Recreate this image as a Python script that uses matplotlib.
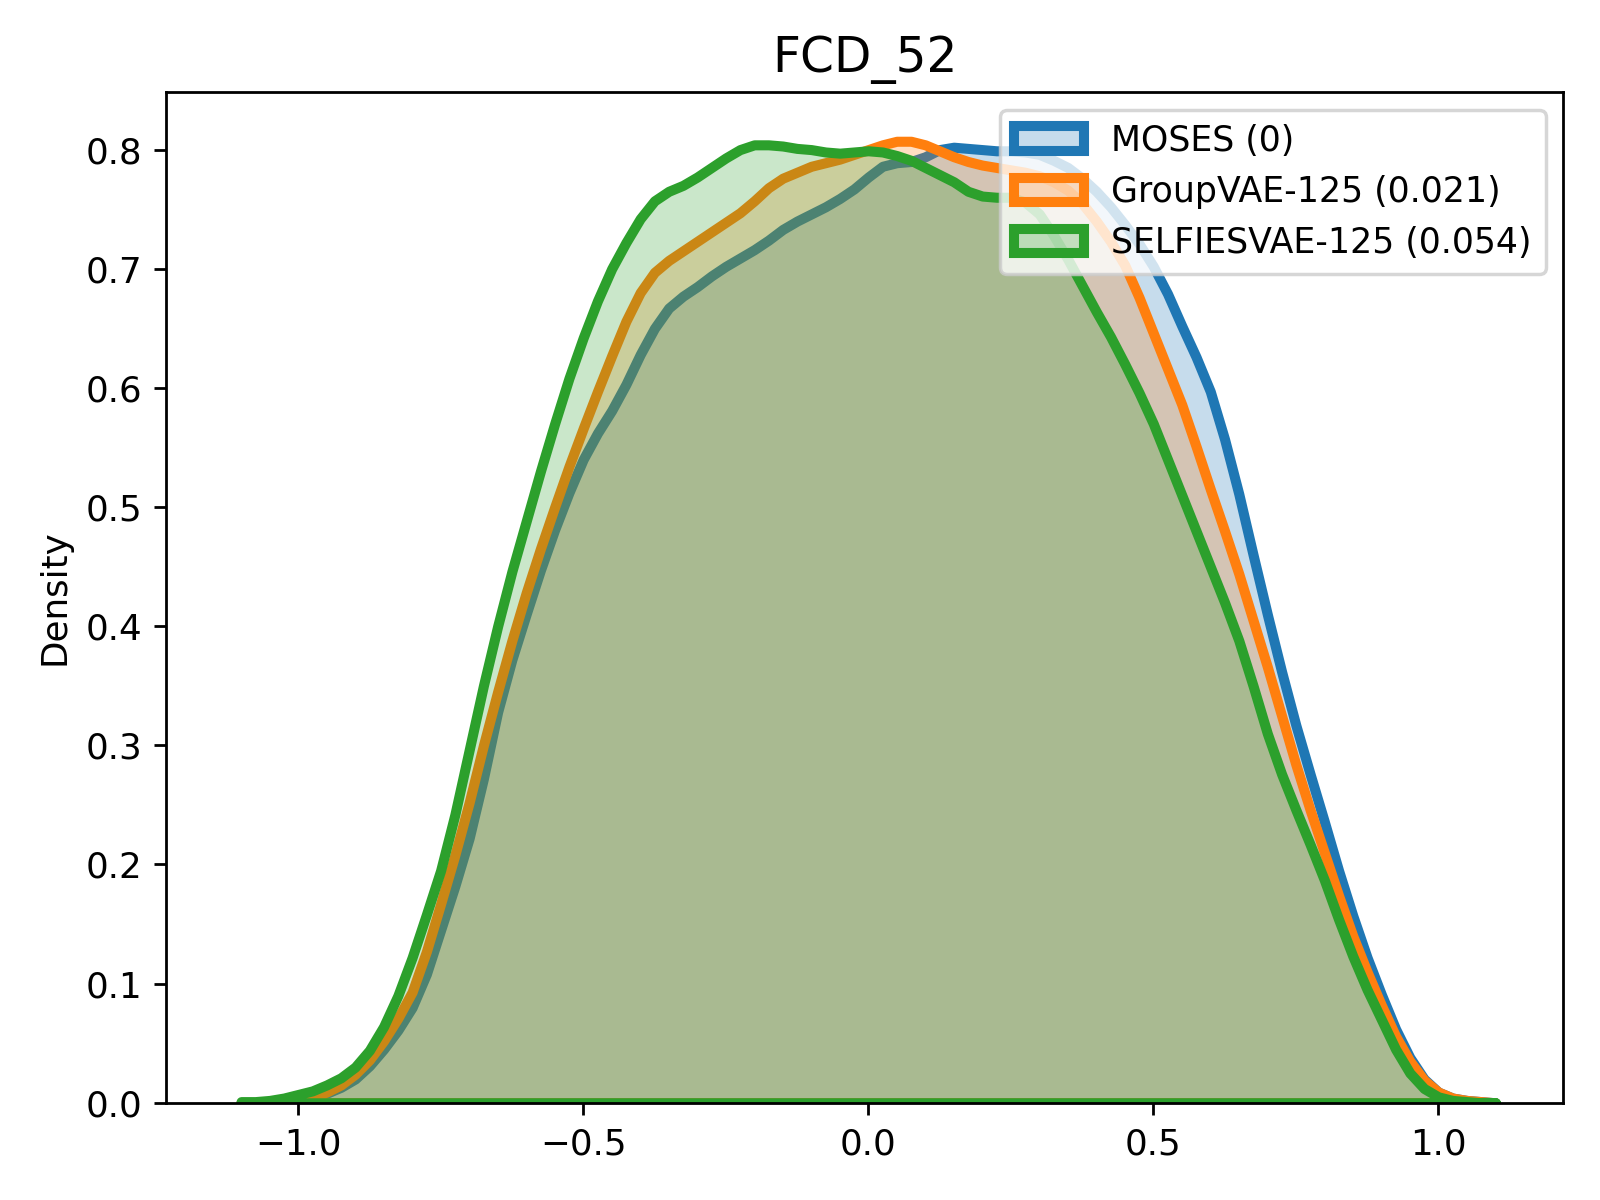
import matplotlib
matplotlib.use("Agg")
import matplotlib.pyplot as plt
import numpy as np
from matplotlib.colors import to_rgba
from matplotlib.patches import Patch

# evaluation grid: -1.1 .. 1.1 in steps of 0.025
x = np.round(np.linspace(-1.1, 1.1, 89), 3)

moses = [0.000, 0.000, 0.001, 0.002, 0.003, 0.005, 0.008, 0.013, 0.020, 0.031,
         0.045, 0.061, 0.080, 0.108, 0.145, 0.182, 0.222, 0.272, 0.328, 0.372,
         0.410, 0.447, 0.481, 0.512, 0.540, 0.562, 0.581, 0.603, 0.628, 0.650,
         0.667, 0.677, 0.685, 0.694, 0.702, 0.709, 0.716, 0.724, 0.733, 0.740,
         0.746, 0.752, 0.759, 0.767, 0.777, 0.786, 0.789, 0.790, 0.794, 0.800,
         0.802, 0.801, 0.800, 0.799, 0.799, 0.798, 0.796, 0.791, 0.785, 0.776,
         0.765, 0.752, 0.737, 0.721, 0.702, 0.679, 0.652, 0.626, 0.597, 0.557,
         0.511, 0.460, 0.410, 0.362, 0.317, 0.276, 0.236, 0.195, 0.157, 0.122,
         0.091, 0.062, 0.038, 0.020, 0.009, 0.004, 0.002, 0.001, 0.000]

groupvae = [0.000, 0.000, 0.001, 0.002, 0.003, 0.005, 0.009, 0.015, 0.024, 0.036,
            0.052, 0.071, 0.093, 0.127, 0.167, 0.208, 0.252, 0.300, 0.345, 0.388,
            0.428, 0.465, 0.500, 0.534, 0.566, 0.597, 0.627, 0.656, 0.680, 0.697,
            0.707, 0.715, 0.723, 0.731, 0.739, 0.747, 0.757, 0.768, 0.776, 0.781,
            0.786, 0.789, 0.792, 0.796, 0.800, 0.804, 0.807, 0.807, 0.804, 0.799,
            0.794, 0.790, 0.787, 0.785, 0.783, 0.781, 0.778, 0.773, 0.766, 0.755,
            0.740, 0.723, 0.703, 0.676, 0.646, 0.616, 0.586, 0.551, 0.515, 0.480,
            0.444, 0.405, 0.366, 0.325, 0.284, 0.246, 0.210, 0.174, 0.140, 0.110,
            0.082, 0.056, 0.035, 0.019, 0.009, 0.004, 0.002, 0.001, 0.000]

selfiesvae = [0.001, 0.001, 0.002, 0.004, 0.007, 0.010, 0.015, 0.021, 0.030, 0.044,
              0.064, 0.090, 0.122, 0.158, 0.195, 0.242, 0.296, 0.350, 0.400, 0.446,
              0.488, 0.530, 0.570, 0.608, 0.642, 0.673, 0.700, 0.722, 0.742, 0.757,
              0.765, 0.770, 0.777, 0.785, 0.793, 0.800, 0.804, 0.804, 0.803, 0.801,
              0.800, 0.798, 0.797, 0.798, 0.799, 0.798, 0.795, 0.791, 0.785, 0.779,
              0.773, 0.765, 0.761, 0.760, 0.760, 0.756, 0.746, 0.728, 0.708, 0.686,
              0.664, 0.643, 0.620, 0.596, 0.570, 0.540, 0.510, 0.480, 0.450, 0.420,
              0.388, 0.350, 0.310, 0.276, 0.246, 0.217, 0.187, 0.154, 0.123, 0.095,
              0.070, 0.045, 0.025, 0.012, 0.005, 0.002, 0.001, 0.000, 0.000]

labels = ["MOSES (0)", "GroupVAE-125 (0.021)", "SELFIESVAE-125 (0.054)"]
colors = ["#1f77b4", "#ff7f0e", "#2ca02c"]
series = [moses, groupvae, selfiesvae]

plt.rcParams["font.size"] = 10.25

fig = plt.figure(figsize=(6.4, 4.8), dpi=250)
ax = fig.add_axes([0.104, 0.081, 0.873, 0.842])

lw = 2.9
for y, c in zip(series, colors):
    ax.fill_between(x, y, facecolor=to_rgba(c, 0.25), edgecolor=c, linewidth=lw)

ax.set_xlim(-1.231, 1.219)
ax.set_ylim(0, 0.848)
ax.set_yticks([0.0, 0.1, 0.2, 0.3, 0.4, 0.5, 0.6, 0.7, 0.8])
ax.set_xticks([-1.0, -0.5, 0.0, 0.5, 1.0])
ax.set_ylabel("Density")
ax.set_title("FCD_52", fontsize=14)

handles = [Patch(facecolor=to_rgba(c, 0.25), edgecolor=c, linewidth=lw) for c in colors]
ax.legend(handles, labels, loc="upper right", fontsize=10)

fig.savefig("out.png", dpi=250)
